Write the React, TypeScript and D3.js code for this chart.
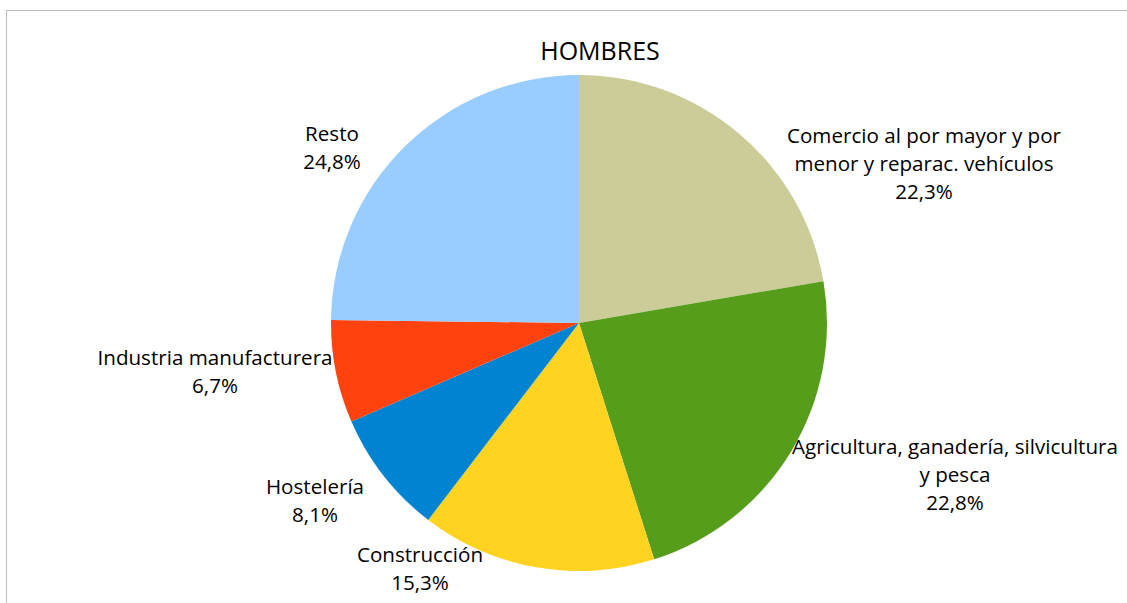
import React from "react";
import * as d3 from "d3";

const categories = [
  "Comercio al por mayor y por|menor y reparac. vehículos",
  "Agricultura, ganadería, silvicultura|y pesca",
  "Construcción",
  "Hostelería",
  "Industria manufacturera",
  "Resto",
];
const values = [22.3, 22.8, 15.3, 8.1, 6.7, 24.8];
const colors = ["#CCCC99", "#579D1C", "#FFD320", "#0084D1", "#FF420E", "#99CCFF"];
// label anchor (center x, first-line baseline y) per slice
const labelPos: [number, number][] = [
  [924, 143],
  [955, 454],
  [420, 562],
  [315, 494],
  [215, 365],
  [332, 141],
];

const W = 1127;
const H = 603;
const cx = 579;
const cy = 323;
const R = 248;
const FONT = "'Open Sans', Lato, sans-serif";

export default function App() {
  const pie = d3.pie<number>().sort(null).value((d) => d);
  const arcs = pie(values);
  const arc = d3.arc<d3.PieArcDatum<number>>().innerRadius(0).outerRadius(R);
  const fmt = (v: number) => v.toFixed(1).replace(".", ",") + "%";
  const lineH = 28;
  return (
    <svg
      width={W}
      height={H}
      style={{ position: "absolute", left: 0, top: 0, background: "#fff" }}
    >
      <rect x={6.5} y={10.5} width={W + 10} height={H + 10} fill="#fff" stroke="#BFBFBF" strokeWidth={1} />
      <text x={600} y={60} textAnchor="middle" fontFamily={FONT} fontSize={25} fill="#000">
        HOMBRES
      </text>
      <g transform={`translate(${cx},${cy})`}>
        {arcs.map((a, i) => (
          <path key={i} d={arc(a) || ""} fill={colors[i]} />
        ))}
      </g>
      {categories.map((c, i) => {
        const lines = [...c.split("|"), fmt(values[i])];
        const [lx, ly] = labelPos[i];
        return (
          <text key={i} x={lx} y={ly} textAnchor="middle" fontFamily={FONT} fontSize={20.6} fill="#000">
            {lines.map((l, j) => (
              <tspan key={j} x={lx} y={ly + j * lineH}>
                {l}
              </tspan>
            ))}
          </text>
        );
      })}
    </svg>
  );
}
